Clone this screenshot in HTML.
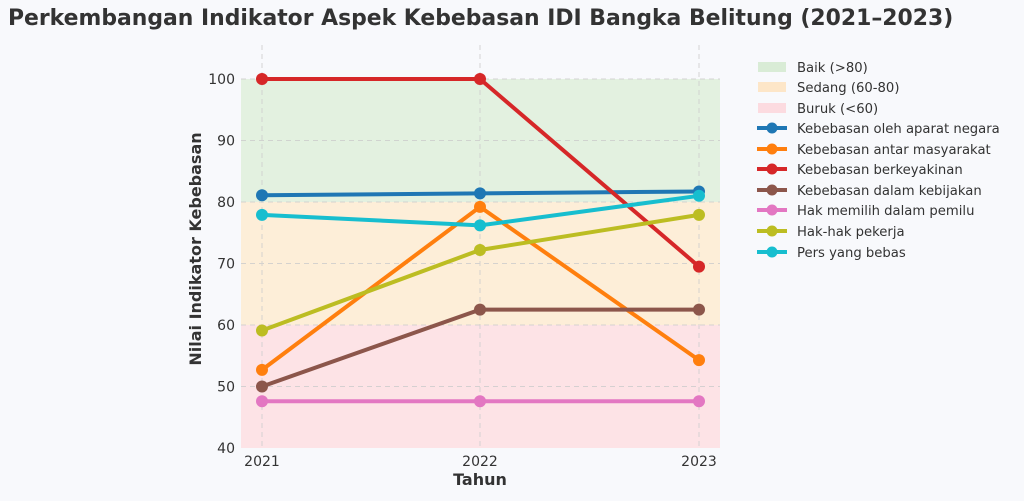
<!DOCTYPE html><html><head><style>body{margin:0;background:#f8f9fc}</style></head><body>
<svg width="1024" height="496" xmlns="http://www.w3.org/2000/svg" font-family="DejaVu Sans, Liberation Sans, sans-serif">
<rect width="1024" height="496" fill="#f8f9fc"/>
<text x="8" y="25" font-size="21.9" font-weight="bold" fill="#333">Perkembangan Indikator Aspek Kebebasan IDI Bangka Belitung (2021–2023)</text>
<rect x="241" y="79" width="479" height="123" fill="#e3f1e0"/>
<rect x="241" y="202" width="479" height="123" fill="#fdeed8"/>
<rect x="241" y="325" width="479" height="123" fill="#fde3e6"/>
<g stroke="#ccc" stroke-dasharray="5,4" stroke-width="1" opacity="0.8">
<line x1="262" y1="45" x2="262" y2="448"/><line x1="480" y1="45" x2="480" y2="448"/><line x1="699" y1="45" x2="699" y2="448"/>
<line x1="241" y1="79" x2="720" y2="79"/><line x1="241" y1="140.5" x2="720" y2="140.5"/><line x1="241" y1="202" x2="720" y2="202"/><line x1="241" y1="263.5" x2="720" y2="263.5"/><line x1="241" y1="325" x2="720" y2="325"/><line x1="241" y1="386.5" x2="720" y2="386.5"/>
</g>
<g font-size="14" fill="#333" text-anchor="end">
<text x="235" y="84">100</text><text x="235" y="145.5">90</text><text x="235" y="207">80</text><text x="235" y="268.5">70</text><text x="235" y="330">60</text><text x="235" y="391.5">50</text><text x="235" y="453">40</text>
</g>
<g font-size="14" fill="#333" text-anchor="middle">
<text x="262" y="466">2021</text><text x="480" y="466">2022</text><text x="699" y="466">2023</text>
</g>
<text x="480" y="485" font-size="16" font-weight="bold" fill="#333" text-anchor="middle">Tahun</text>
<text transform="translate(201,249) rotate(-90)" font-size="16" font-weight="bold" fill="#333" text-anchor="middle">Nilai Indikator Kebebasan</text>
<g fill="none" stroke-width="4">
<polyline stroke="#1f77b4" points="262,195.2 480,193.4 699,191.5"/>
<polyline stroke="#ff7f0e" points="262,369.9 480,206.9 699,360.1"/>
<polyline stroke="#d62728" points="262,79 480,79 699,266.6"/>
<polyline stroke="#8c564b" points="262,386.5 480,309.6 699,309.6"/>
<polyline stroke="#e377c2" points="262,401.3 480,401.3 699,401.3"/>
<polyline stroke="#bcbd22" points="262,330.5 480,250 699,214.9"/>
<polyline stroke="#17becf" points="262,214.9 480,225.4 699,195.8"/>
</g>
<g>
<g fill="#1f77b4"><circle cx="262" cy="195.2" r="6"/><circle cx="480" cy="193.4" r="6"/><circle cx="699" cy="191.5" r="6"/></g>
<g fill="#ff7f0e"><circle cx="262" cy="369.9" r="6"/><circle cx="480" cy="206.9" r="6"/><circle cx="699" cy="360.1" r="6"/></g>
<g fill="#d62728"><circle cx="262" cy="79" r="6"/><circle cx="480" cy="79" r="6"/><circle cx="699" cy="266.6" r="6"/></g>
<g fill="#8c564b"><circle cx="262" cy="386.5" r="6"/><circle cx="480" cy="309.6" r="6"/><circle cx="699" cy="309.6" r="6"/></g>
<g fill="#e377c2"><circle cx="262" cy="401.3" r="6"/><circle cx="480" cy="401.3" r="6"/><circle cx="699" cy="401.3" r="6"/></g>
<g fill="#bcbd22"><circle cx="262" cy="330.5" r="6"/><circle cx="480" cy="250" r="6"/><circle cx="699" cy="214.9" r="6"/></g>
<g fill="#17becf"><circle cx="262" cy="214.9" r="6"/><circle cx="480" cy="225.4" r="6"/><circle cx="699" cy="195.8" r="6"/></g>
</g>
<g font-size="13.2" fill="#333">
<rect x="758" y="62" width="28" height="10" fill="#d9ecd6"/><text x="797" y="72">Baik (&gt;80)</text>
<rect x="758" y="82" width="28" height="10" fill="#fde6c8"/><text x="797" y="92">Sedang (60-80)</text>
<rect x="758" y="103" width="28" height="10" fill="#fcdbe0"/><text x="797" y="113">Buruk (&lt;60)</text>
<g stroke-width="4">
<line x1="757" y1="128" x2="787" y2="128" stroke="#1f77b4"/><circle cx="772" cy="128" r="5.5" fill="#1f77b4"/>
<line x1="757" y1="149" x2="787" y2="149" stroke="#ff7f0e"/><circle cx="772" cy="149" r="5.5" fill="#ff7f0e"/>
<line x1="757" y1="169" x2="787" y2="169" stroke="#d62728"/><circle cx="772" cy="169" r="5.5" fill="#d62728"/>
<line x1="757" y1="190" x2="787" y2="190" stroke="#8c564b"/><circle cx="772" cy="190" r="5.5" fill="#8c564b"/>
<line x1="757" y1="210" x2="787" y2="210" stroke="#e377c2"/><circle cx="772" cy="210" r="5.5" fill="#e377c2"/>
<line x1="757" y1="231" x2="787" y2="231" stroke="#bcbd22"/><circle cx="772" cy="231" r="5.5" fill="#bcbd22"/>
<line x1="757" y1="252" x2="787" y2="252" stroke="#17becf"/><circle cx="772" cy="252" r="5.5" fill="#17becf"/>
</g>
<text x="797" y="133">Kebebasan oleh aparat negara</text>
<text x="797" y="154">Kebebasan antar masyarakat</text>
<text x="797" y="174">Kebebasan berkeyakinan</text>
<text x="797" y="195">Kebebasan dalam kebijakan</text>
<text x="797" y="215">Hak memilih dalam pemilu</text>
<text x="797" y="236">Hak-hak pekerja</text>
<text x="797" y="257">Pers yang bebas</text>
</g>
</svg>
</body></html>
